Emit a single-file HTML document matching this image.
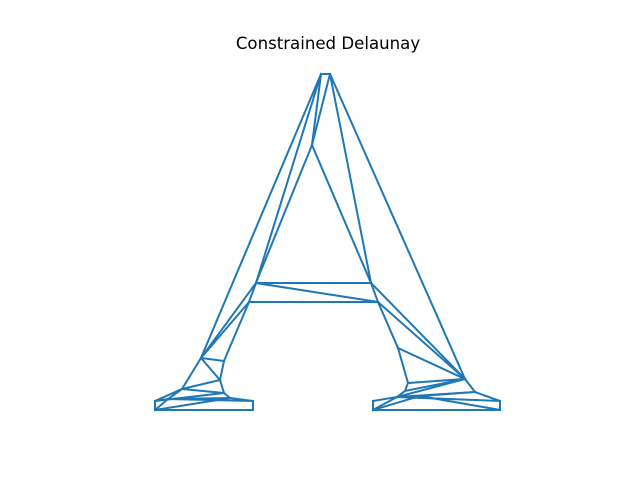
<!DOCTYPE html>
<html><head><meta charset="utf-8"><style>
body{margin:0;background:#fff;font-family:"DejaVu Sans",sans-serif}
</style></head><body>
<svg width="640" height="480">
<text x="328" y="49" text-anchor="middle" font-size="16.6" font-family="DejaVu Sans, sans-serif">Constrained Delaunay</text>
<g id="mesh" stroke="#1f77b4" stroke-width="2" fill="none" stroke-linecap="square"></g>
</svg>
<script>
const xs=[321,330,312,256,371,249,378,201,224,220,182,224,230,155,155,253,253,398,465,408,405,397,475,373,373,500,500,168,420];
const ys=[74,74,145,283,283,302,302,358,361,380,389,393,398,401,410,410,401,348,379,383,391,397,392,401,410,401,410,399,396];
const edges=[[0,1],[0,7],[0,3],[0,2],[1,2],[2,3],[2,4],[1,4],[1,18],[3,4],[3,6],[5,6],[3,5],[4,6],[3,7],[5,7],[5,8],[7,8],[8,9],[7,9],[7,10],[10,9],[9,11],[11,12],[12,16],[16,15],[15,14],[14,13],[13,10],[10,11],[13,11],[14,12],[13,27],[27,16],[27,12],[10,27],[14,27],
[6,17],[17,18],[4,18],[6,18],[17,19],[19,18],[19,20],[20,21],[21,18],[21,23],[23,24],[24,26],[26,25],[25,22],[22,18],[24,21],[21,22],[21,25],[24,28],[28,26],[21,28],[28,22],[20,18]];
const g=document.getElementById('mesh');
const sx=i=>xs[i], sy=i=>ys[i];
edges.forEach((e,k)=>{
 const l=document.createElementNS('http://www.w3.org/2000/svg','line');
 l.setAttribute('x1',sx(e[0]));l.setAttribute('y1',sy(e[0]));
 l.setAttribute('x2',sx(e[1]));l.setAttribute('y2',sy(e[1]));
 
 
 g.appendChild(l);
});
</script>
</body></html>
